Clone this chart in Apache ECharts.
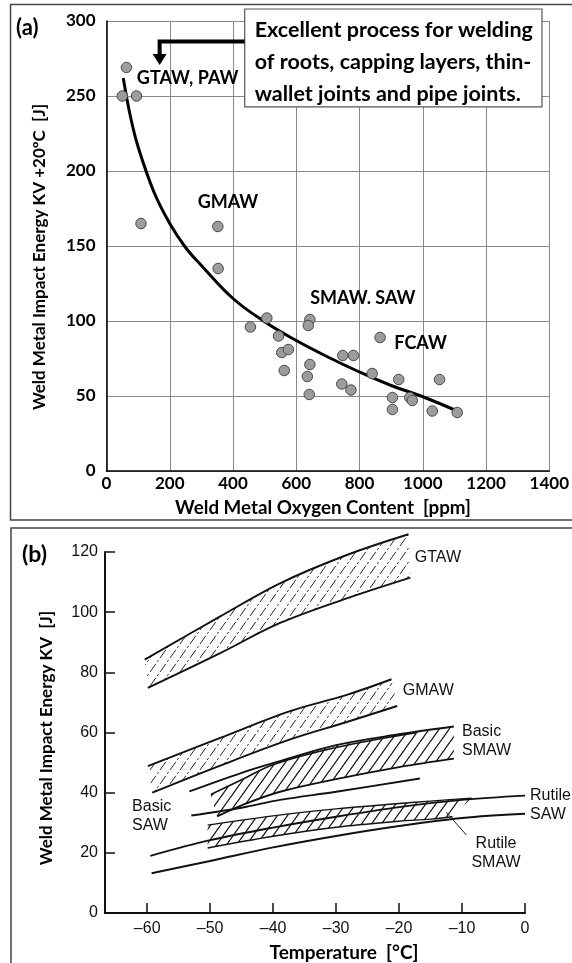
<!DOCTYPE html>
<html>
<head>
<meta charset="utf-8">
<script src="https://cdn.jsdelivr.net/npm/echarts@6/dist/echarts.min.js"></script>
<style>
  html, body { margin: 0; padding: 0; background: #fff; }
  #chart { width: 572px; height: 963px; }
</style>
</head>
<body>
<div id="chart"></div>
<script>
// ---------- Panel (a): weld metal oxygen content vs impact energy at +20 °C ----------
const oxygenPpm = [63, 50, 95, 109, 352, 353, 455, 507, 544, 554, 562, 575, 643, 638, 747, 781, 865,
                   643, 635, 641, 744, 773, 840, 924, 904, 904, 959, 967, 1030, 1053, 1109];
const impactJ   = [269, 250, 250, 165, 163, 135, 96, 102, 90, 79, 67, 81, 101, 97, 77, 77, 89,
                   71, 63, 51, 58, 54, 65, 61, 49, 41, 49, 47, 40, 61, 39];
const trendPpm  = [53, 75, 100, 150, 200, 250, 300, 400, 500, 600, 700, 800, 900, 1000, 1103];
const trendJ    = [262, 237, 216, 186, 165, 149, 137, 115, 99.5, 87, 76, 66, 57, 49.5, 40.5];
const processLabelsA = [
  { text: 'GTAW, PAW', x: 96,  y: 262, align: 'left' },
  { text: 'GMAW',      x: 384, y: 179, align: 'center' },
  { text: 'SMAW. SAW', x: 644, y: 115, align: 'left' },
  { text: 'FCAW',      x: 910, y: 85,  align: 'left' }
];
const noteLines = ['Excellent process for welding', 'of roots, capping layers, thin-', 'wallet joints and pipe joints.'];

// ---------- Panel (b): impact energy vs test temperature, bands per process ----------
const gtawUpper = [[-60.4, 84.2], [-48.4, 98.6], [-38.9, 109.6], [-28.3, 119], [-18.5, 125.9]];
const gtawLower = [[-59.9, 74.8], [-48.4, 86.4], [-38.9, 96.4], [-28.3, 104.6], [-18.2, 111.5]];
const gmawUpper = [[-59.9, 48.8], [-48.4, 58.2], [-37.3, 67.1], [-28.3, 72.5], [-21.2, 77.7]];
const gmawLower = [[-59.2, 40.0], [-48.4, 49.0], [-37.3, 57.7], [-28.3, 63.5], [-20.3, 68.8]];
const basicSmawTop   = [[-53.3, 40.4], [-45, 46.6], [-38.9, 50.5], [-30, 55.8], [-20, 59.4], [-11.3, 62]];
const basicSmawInner = [[-49.9, 39.4], [-45, 44.3], [-40, 49.3], [-30, 55.0], [-17.3, 59.9]];
const basicSmawLower = [[-48.9, 32.1], [-45, 35.8], [-38.9, 40.3], [-30, 44.5], [-20, 48.5], [-11.3, 51.3]];
const basicSawLine   = [[-53, 32.4], [-45, 35.0], [-38.9, 37.6], [-30, 40.3], [-16.7, 44.7]];
const rutileSawUpper = [[-59.5, 19.0], [-50, 24.2], [-40, 28.4], [-30, 32], [-20, 35.2], [-10, 37.6], [0, 39.0]];
const rutileSawLower = [[-59.3, 13.2], [-50, 17.3], [-40, 21.8], [-30, 25.6], [-20, 28.9], [-10, 31.6], [0, 33.0]];
const rutileSmawUpper = [[-50.4, 29.2], [-40, 32.3], [-30, 34.6], [-20, 36.4], [-15, 37.2], [-8.5, 38.2]];
const rutileSmawLower = [[-50.4, 21.6], [-40, 25.5], [-30, 28.5], [-20, 30.5], [-15, 31.2], [-11.5, 32.0]];
const tempTicks = [-60, -50, -40, -30, -20, -10, 0];
const processLabelsB = [
  { text: 'GTAW',          x: -17.5, y: 118,  align: 'left' },
  { text: 'GMAW',          x: -19.4, y: 73.9, align: 'left' },
  { text: 'Basic\nSMAW',   x: -10.0, y: 57.0, align: 'left' },
  { text: 'Basic\nSAW',    x: -62.4, y: 32.2, align: 'left' },
  { text: 'Rutile\nSAW',   x: 0.8,   y: 35.8, align: 'left' },
  { text: 'Rutile\nSMAW',  x: -4.6,  y: 19.9, align: 'center' }
];
const rutileSmawPointer = [[-9.3, 25.9], [-12.5, 33.5]];

const boldFace = 'Lato, "Open Sans", sans-serif';
const plainFace = '"Liberation Sans", Arial, sans-serif';

// Diagonal hatching tile used as a fill pattern
function hatch(color, lw, dash) {
  const w = 10, h = 14;
  const c = document.createElement('canvas');
  c.width = w; c.height = h;
  const g = c.getContext('2d');
  g.strokeStyle = color;
  g.lineWidth = lw;
  if (dash) g.setLineDash(dash);
  for (let k = -1; k <= 1; k++) {
    g.beginPath();
    g.moveTo(k * w, h);
    g.lineTo(k * w + w, 0);
    g.stroke();
  }
  return { image: c, repeat: 'repeat' };
}
const lightHatch = hatch('#2a2a2a', 1, [10, 2.5, 2.2, 2.5]);
const darkHatch = hatch('#111', 1.3, null);

function bandFill(upper, lower, pattern) {
  return {
    type: 'custom', xAxisIndex: 1, yAxisIndex: 1, silent: true, clip: false,
    data: upper,
    renderItem: function (params, api) {
      if (params.dataIndex !== 0) return null;
      const pts = upper.concat(lower.slice().reverse()).map(p => api.coord(p));
      return { type: 'polygon', shape: { points: pts }, style: { fill: pattern, stroke: null } };
    }
  };
}
function edge(points, width) {
  return {
    type: 'line', xAxisIndex: 1, yAxisIndex: 1, data: points, smooth: 0.35,
    symbol: 'none', clip: false, silent: true,
    lineStyle: { color: '#111', width: width || 1.9 }
  };
}

const chart = echarts.init(document.getElementById('chart'), null, { renderer: 'canvas' });

const option = {
  animation: false,
  backgroundColor: '#fff',
  grid: [
    { left: 106.5, top: 21, width: 446.8, height: 450 },
    { left: 105, top: 552, width: 420, height: 361 }
  ],
  xAxis: [
    {
      gridIndex: 0, type: 'value', min: 0, max: 1400, interval: 200,
      axisLine: { show: true, onZero: false, lineStyle: { color: '#000', width: 1.5 } },
      axisTick: { show: false },
      splitLine: { show: true, lineStyle: { color: '#8a8a8a', width: 1 } },
      axisLabel: { color: '#000', fontFamily: boldFace, fontWeight: 'bold', fontSize: 17, margin: 4,
                   formatter: v => String(v) }
    },
    {
      gridIndex: 1, type: 'value', min: -66.7, max: 0,
      axisLine: { show: true, onZero: false, lineStyle: { color: '#111', width: 2 } },
      axisTick: { show: true, inside: true, length: 10, customValues: tempTicks, lineStyle: { color: '#111', width: 1.5 } },
      splitLine: { show: false },
      axisLabel: {
        customValues: tempTicks, color: '#111', fontFamily: plainFace, fontSize: 16, margin: 8,
        formatter: v => String(v).replace('-', '\u2013')
      }
    }
  ],
  yAxis: [
    {
      gridIndex: 0, type: 'value', min: 0, max: 300, interval: 50,
      axisLine: { show: true, onZero: false, lineStyle: { color: '#000', width: 1.5 } },
      axisTick: { show: false },
      splitLine: { show: true, lineStyle: { color: '#8a8a8a', width: 1 } },
      axisLabel: { color: '#000', fontFamily: boldFace, fontWeight: 'bold', fontSize: 17, margin: 11 }
    },
    {
      gridIndex: 1, type: 'value', min: 0, max: 120, interval: 20,
      axisLine: { show: true, onZero: false, lineStyle: { color: '#111', width: 2 } },
      axisTick: { show: true, inside: true, length: 10, lineStyle: { color: '#111', width: 1.5 } },
      splitLine: { show: false },
      axisLabel: { color: '#111', fontFamily: plainFace, fontSize: 16, margin: 7 }
    }
  ],
  series: [
    {
      type: 'line', xAxisIndex: 0, yAxisIndex: 0, silent: true,
      data: trendPpm.map((x, i) => [x, trendJ[i]]),
      smooth: 0.4, symbol: 'none',
      lineStyle: { color: '#000', width: 3 }, z: 3
    },
    {
      type: 'scatter', xAxisIndex: 0, yAxisIndex: 0, silent: true,
      data: oxygenPpm.map((x, i) => [x, impactJ[i]]),
      symbolSize: 10.5,
      itemStyle: { color: '#9c9c9c', borderColor: '#4a4a4a', borderWidth: 1, opacity: 1 }, z: 4
    },
    bandFill(gtawUpper, gtawLower, lightHatch),
    bandFill(gmawUpper, gmawLower, lightHatch),
    bandFill(basicSmawInner.slice(0, 2).concat(basicSmawTop.slice(2)), basicSmawLower, darkHatch),
    bandFill(rutileSmawUpper, rutileSmawLower, darkHatch),
    edge(gtawUpper), edge(gtawLower),
    edge(gmawUpper), edge(gmawLower),
    edge(basicSmawTop), edge(basicSmawInner, 1.5), edge(basicSmawLower), edge(basicSawLine),
    edge(rutileSawUpper), edge(rutileSawLower),
    edge(rutileSmawUpper, 1.4), edge(rutileSmawLower, 1.4)
  ]
};
chart.setOption(option);

// ---------- annotations, placed through the axes' own coordinate conversion ----------
const toA = p => chart.convertToPixel({ gridIndex: 0 }, p);
const toB = p => chart.convertToPixel({ gridIndex: 1 }, p);
const graphics = [];

// panel frames
graphics.push({ type: 'rect', shape: { x: 10.5, y: 4.5, width: 620, height: 515.5 },
  style: { fill: null, stroke: '#444', lineWidth: 1.5 }, z: 1 });
graphics.push({ type: 'rect', shape: { x: 11, y: 528, width: 620, height: 500 },
  style: { fill: null, stroke: '#444', lineWidth: 1.5 }, z: 1 });

// panel tags
graphics.push({ type: 'text', x: 16, y: 28, style: { text: '(a)', font: 'bold 22px ' + boldFace, fill: '#000', textVerticalAlign: 'middle' }, z: 20 });
graphics.push({ type: 'text', x: 22, y: 555, style: { text: '(b)', font: 'bold 23px ' + boldFace, fill: '#000', textVerticalAlign: 'middle' }, z: 20 });

// axis titles
graphics.push({ type: 'text', x: 40, y: 257, rotation: Math.PI / 2,
  style: { text: 'Weld Metal Impact Energy KV +20\u00baC  [J]', font: 'bold 17px ' + boldFace, fill: '#000', textAlign: 'center', textVerticalAlign: 'middle' }, z: 20 });
graphics.push({ type: 'text', x: 323, y: 508,
  style: { text: 'Weld Metal Oxygen Content  [ppm]', font: 'bold 18.8px ' + boldFace, fill: '#000', textAlign: 'center', textVerticalAlign: 'middle' }, z: 20 });
graphics.push({ type: 'text', x: 47, y: 738, rotation: Math.PI / 2,
  style: { text: 'Weld Metal Impact Energy KV  [J]', font: 'bold 17px ' + boldFace, fill: '#000', textAlign: 'center', textVerticalAlign: 'middle' }, z: 20 });
graphics.push({ type: 'text', x: 344, y: 953,
  style: { text: 'Temperature  [\u00b0C]', font: 'bold 19px ' + boldFace, fill: '#000', textAlign: 'center', textVerticalAlign: 'middle' }, z: 20 });

// process labels, panel (a)
processLabelsA.forEach(l => {
  const p = toA([l.x, l.y]);
  graphics.push({ type: 'text', x: p[0], y: p[1],
    style: { text: l.text, font: 'bold 18px ' + boldFace, fill: '#000', textAlign: l.align, textVerticalAlign: 'middle' }, z: 20 });
});

// note box with arrow, panel (a)
const boxTL = toA([437, 308]), boxBR = toA([1377, 242.7]);
graphics.push({ type: 'rect', shape: { x: boxTL[0], y: boxTL[1], width: boxBR[0] - boxTL[0], height: boxBR[1] - boxTL[1] },
  style: { fill: '#fff', stroke: '#555', lineWidth: 1.2 }, z: 15 });
noteLines.forEach((t, i) => {
  graphics.push({ type: 'text', x: boxTL[0] + 10, y: boxTL[1] + 21 + i * 32,
    style: { text: t, font: 'bold 21.5px ' + boldFace, fill: '#000', textVerticalAlign: 'middle' }, z: 16 });
});
const arrowStart = toA([437, 286.3]), arrowCorner = toA([168, 286.3]), arrowTip = toA([168, 270.7]);
graphics.push({ type: 'polyline', shape: { points: [arrowStart, arrowCorner, [arrowCorner[0], arrowTip[1] - 9]] },
  style: { stroke: '#000', lineWidth: 4, fill: null }, z: 16 });
graphics.push({ type: 'polygon', shape: { points: [[arrowTip[0] - 7, arrowTip[1] - 11], [arrowTip[0] + 7, arrowTip[1] - 11], arrowTip] },
  style: { fill: '#000' }, z: 16 });

// process labels, panel (b)
processLabelsB.forEach(l => {
  const p = toB([l.x, l.y]);
  graphics.push({ type: 'text', x: p[0], y: p[1],
    style: { text: l.text, font: '16px ' + plainFace, lineHeight: 19, fill: '#111', textAlign: l.align, textVerticalAlign: 'middle' }, z: 20 });
});
const ptr = rutileSmawPointer.map(toB);
graphics.push({ type: 'line', shape: { x1: ptr[0][0], y1: ptr[0][1], x2: ptr[1][0], y2: ptr[1][1] },
  style: { stroke: '#222', lineWidth: 1 }, z: 20 });

chart.setOption({ graphic: graphics });
</script>
</body>
</html>
